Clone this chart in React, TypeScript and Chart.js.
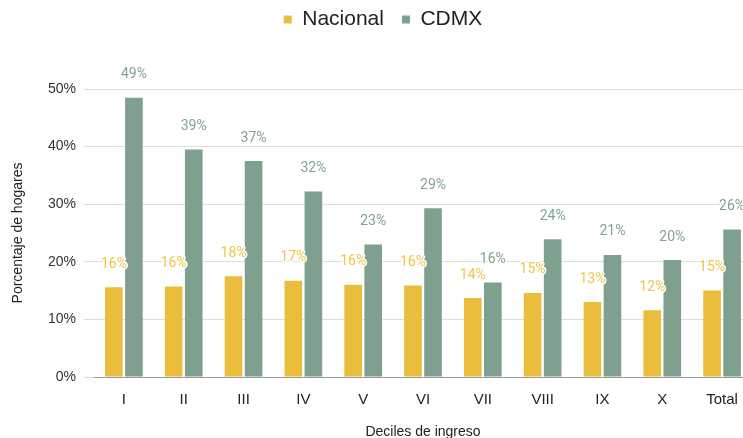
import React, { useEffect, useRef } from "react";
import { Chart, registerables } from "chart.js";

Chart.register(...registerables);

const categories = ["I", "II", "III", "IV", "V", "VI", "VII", "VIII", "IX", "X", "Total"];
const nacional = [15.6, 15.7, 17.5, 16.7, 16.0, 15.9, 13.7, 14.6, 13.0, 11.6, 15.0];
const cdmx = [48.5, 39.5, 37.5, 32.2, 23.0, 29.3, 16.4, 23.9, 21.2, 20.3, 25.6];
const nacionalLabels = ["16%", "16%", "18%", "17%", "16%", "16%", "14%", "15%", "13%", "12%", "15%"];
const cdmxLabels = ["49%", "39%", "37%", "32%", "23%", "29%", "16%", "24%", "21%", "20%", "26%"];
const yTicks = [0, 10, 20, 30, 40, 50];

const NAC_COLOR = "#EBBD3C";
const CDMX_COLOR = "#7FA08E";
const NAC_LABEL = "#F2C447";
const CDMX_LABEL = "#82A291";

const labelPlugin = {
  id: "barLabels",
  afterDatasetsDraw(chart: any) {
    const ctx = chart.ctx;
    const sets = [nacionalLabels, cdmxLabels];
    const colors = [NAC_LABEL, CDMX_LABEL];
    ctx.save();
    ctx.font = "14px Roboto";
    ctx.textAlign = "center";
    ctx.textBaseline = "middle";
    ctx.lineJoin = "round";
    chart.data.datasets.forEach((_: any, di: number) => {
      const meta = chart.getDatasetMeta(di);
      meta.data.forEach((bar: any, i: number) => {
        const x = bar.x;
        const y = bar.y - 23;
        ctx.strokeStyle = "#ffffff";
        ctx.lineWidth = 3;
        ctx.strokeText(sets[di][i], x, y);
        ctx.fillStyle = colors[di];
        ctx.fillText(sets[di][i], x, y);
      });
    });
    ctx.restore();
  },
};

// Leave room under the legend (as in the reference) and nudge it into place
const legendSpacer = {
  id: "legendSpacer",
  beforeLayout(chart: any) {
    const lg = chart.legend;
    if (lg && !lg._spacerPatched) {
      const fit = lg.fit;
      lg.fit = function () {
        fit.call(this);
        this.height = 84;
      };
      const draw = lg.draw;
      lg.draw = function () {
        const c = this.ctx;
        c.save();
        c.translate(7, -14);
        draw.call(this);
        c.restore();
      };
      lg._spacerPatched = true;
    }
  },
};

export default function App() {
  const ref = useRef<HTMLCanvasElement>(null);
  useEffect(() => {
    if (!ref.current) return;
    const chart = new Chart(ref.current, {
      type: "bar",
      data: {
        labels: categories,
        datasets: [
          {
            label: "Nacional",
            data: nacional,
            backgroundColor: NAC_COLOR,
            borderWidth: 0,
            barPercentage: 0.88,
            categoryPercentage: 0.67,
          },
          {
            label: "CDMX",
            data: cdmx,
            backgroundColor: CDMX_COLOR,
            borderWidth: 0,
            barPercentage: 0.88,
            categoryPercentage: 0.67,
          },
        ],
      },
      options: {
        responsive: false,
        animation: false,
        layout: { padding: { top: 5, bottom: 0, left: 0, right: 0 } },
        plugins: {
          legend: {
            display: true,
            position: "top",
            labels: {
              boxWidth: 8,
              boxHeight: 8,
              padding: 18,
              color: "#222222",
              font: { family: "'Liberation Sans', Arial", size: 21 },
            },
          },
          tooltip: { enabled: false },
        },
        scales: {
          x: {
            grid: { display: false },
            border: { display: true, color: "#999999", width: 1 },
            ticks: {
              color: "#222222",
              padding: 6,
              font: { family: "'Liberation Sans', Arial", size: 15 },
            },
            title: {
              display: true,
              text: "Deciles de ingreso",
              color: "#222222",
              font: { family: "'Liberation Sans', Arial", size: 14, lineHeight: 1 },
              padding: { top: 0, bottom: -1 },
            },
            afterFit(scale: any) {
              scale.height = 61;
            },
          },
          y: {
            min: 0,
            max: 50,
            afterBuildTicks(scale: any) {
              scale.ticks = yTicks.map((v) => ({ value: v }));
            },
            grid: {
              color: "#dddddd",
              lineWidth: 1,
              drawTicks: true,
              tickLength: 10,
            },
            border: { display: false },
            ticks: {
              color: "#333333",
              padding: 8,
              font: { family: "'Liberation Sans', Arial", size: 14 },
              callback: (v: any) => v + "%",
            },
            title: {
              display: true,
              text: "Porcentaje de hogares",
              color: "#222222",
              font: { family: "'Liberation Sans', Arial", size: 14 },
              padding: { top: 10, bottom: 0 },
            },
            afterFit(scale: any) {
              scale.width = 94;
            },
          },
        },
      },
      plugins: [labelPlugin, legendSpacer],
    });
    return () => chart.destroy();
  }, []);
  return (
    <div
      style={{
        position: "absolute",
        left: 0,
        top: 0,
        width: 743,
        height: 438,
        overflow: "hidden",
        background: "#ffffff",
      }}
    >
      <canvas ref={ref} width={752} height={438} style={{ width: 752, height: 438, display: "block" }} />
    </div>
  );
}
